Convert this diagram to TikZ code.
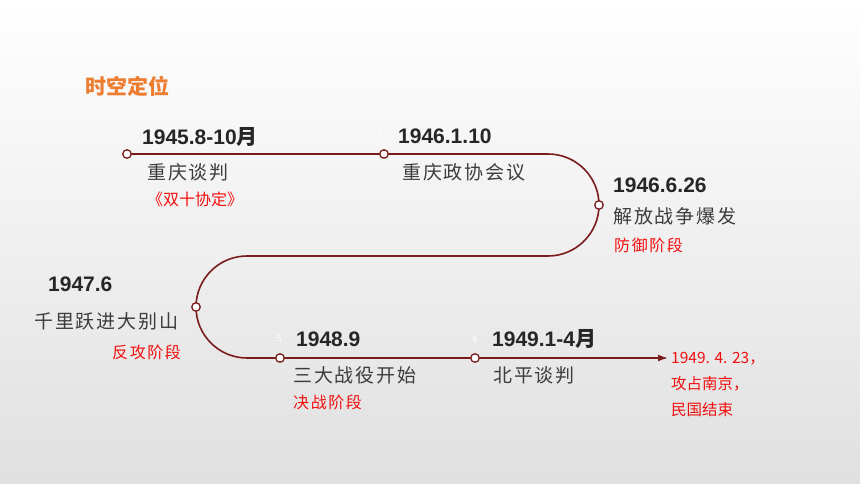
\documentclass[tikz,border=0pt]{standalone}
\usepackage{fontspec}
\setmainfont{Liberation Sans}
\newfontfamily\cjk{Noto Sans CJK SC}
\newfontfamily\cjkwide[LetterSpace=10]{Noto Sans CJK SC}
\usetikzlibrary{arrows.meta}
\definecolor{tlred}{HTML}{7B1C1C}
\definecolor{datecol}{HTML}{262626}
\definecolor{eventcol}{HTML}{3C3C3C}
\definecolor{phasered}{HTML}{F20F0F}
\definecolor{titleorange}{HTML}{ED7D31}
\definecolor{bggray}{HTML}{E0E0E0}

\begin{document}
\begin{tikzpicture}[x=1pt,y=1pt,
    dot/.style={circle,draw=tlred,fill=white,line width=1.3pt,minimum size=8.5pt,inner sep=0pt},
    date/.style={anchor=west,inner sep=0pt,font=\fontsize{21}{24}\selectfont\bfseries,text=datecol},
    event/.style={anchor=west,inner sep=0pt,font=\cjkwide\fontsize{19}{23}\selectfont,text=eventcol},
    phase/.style={anchor=west,inner sep=0pt,font=\cjkwide\fontsize{16}{18}\selectfont,text=phasered},
    num/.style={inner sep=0pt,font=\fontsize{9}{10}\selectfont,text=white}]
  \shade[top color=white,bottom color=bggray] (0,0) rectangle (860,484);
  \useasboundingbox (0,0) rectangle (860,484);

  \node[anchor=west,inner sep=0pt,font=\cjk\bfseries\fontsize{21}{24}\selectfont,text=titleorange] (title) at (85,398) {时空定位};

  \coordinate (t1) at (127,330);
  \coordinate (t2) at (384,330);
  \coordinate (r1) at (548,330);
  \coordinate (t3) at (599,279);
  \coordinate (r2) at (247,228);
  \coordinate (t4) at (196,177);
  \coordinate (t5) at (280,126);
  \coordinate (t6) at (475,126);
  \coordinate (t7) at (668,126);

  \draw[tlred,line width=1.6pt,-{Latex[length=10pt,width=7pt]}]
    (t1) -- (t2) -- (r1) arc[start angle=90,end angle=-90,radius=51]
    -- (r2) arc[start angle=90,end angle=270,radius=51] -- (t5) -- (t6) -- (t7);

  \node[dot] (d1) at (t1) {};
  \node[dot] (d2) at (t2) {};
  \node[dot] (d3) at (t3) {};
  \node[dot] (d4) at (t4) {};
  \node[dot] (d5) at (t5) {};
  \node[dot] (d6) at (t6) {};

  \node[num] (n2) at (380,349) {2};
  \node[num] (n5) at (279,146) {5};
  \node[num] (n6) at (475,145) {6};

  \node[date] (y1) at (142,347) {1945.8-10{\cjk 月}};
  \node[event] (e1) at (147,312) {重庆谈判};
  \node[phase,font=\cjk\fontsize{16}{18}\selectfont] (p1) at (147,285) {《双十协定》};

  \node[date] (y2) at (398,348) {1946.1.10};
  \node[event] (e2) at (402,312) {重庆政协会议};

  \node[date] (y3) at (613,299) {1946.6.26};
  \node[event] (e3) at (613,268) {解放战争爆发};
  \node[phase] (p3) at (614,239) {防御阶段};

  \node[date] (y4) at (48,200) {1947.6};
  \node[event] (e4) at (34,163) {千里跃进大别山};
  \node[phase] (p4) at (112,132) {反攻阶段};

  \node[date] (y5) at (296,145) {1948.9};
  \node[event] (e5) at (293,109) {三大战役开始};
  \node[phase] (p5) at (293,82) {决战阶段};

  \node[date] (y6) at (492,145) {1949.1-4{\cjk 月}};
  \node[event] (e6) at (493,109) {北平谈判};

  \node[phase,align=left,font=\cjk\fontsize{15.5}{26}\selectfont] (fin) at (671,99) {1949. 4. 23，\\攻占南京，\\民国结束};
\end{tikzpicture}
\end{document}
